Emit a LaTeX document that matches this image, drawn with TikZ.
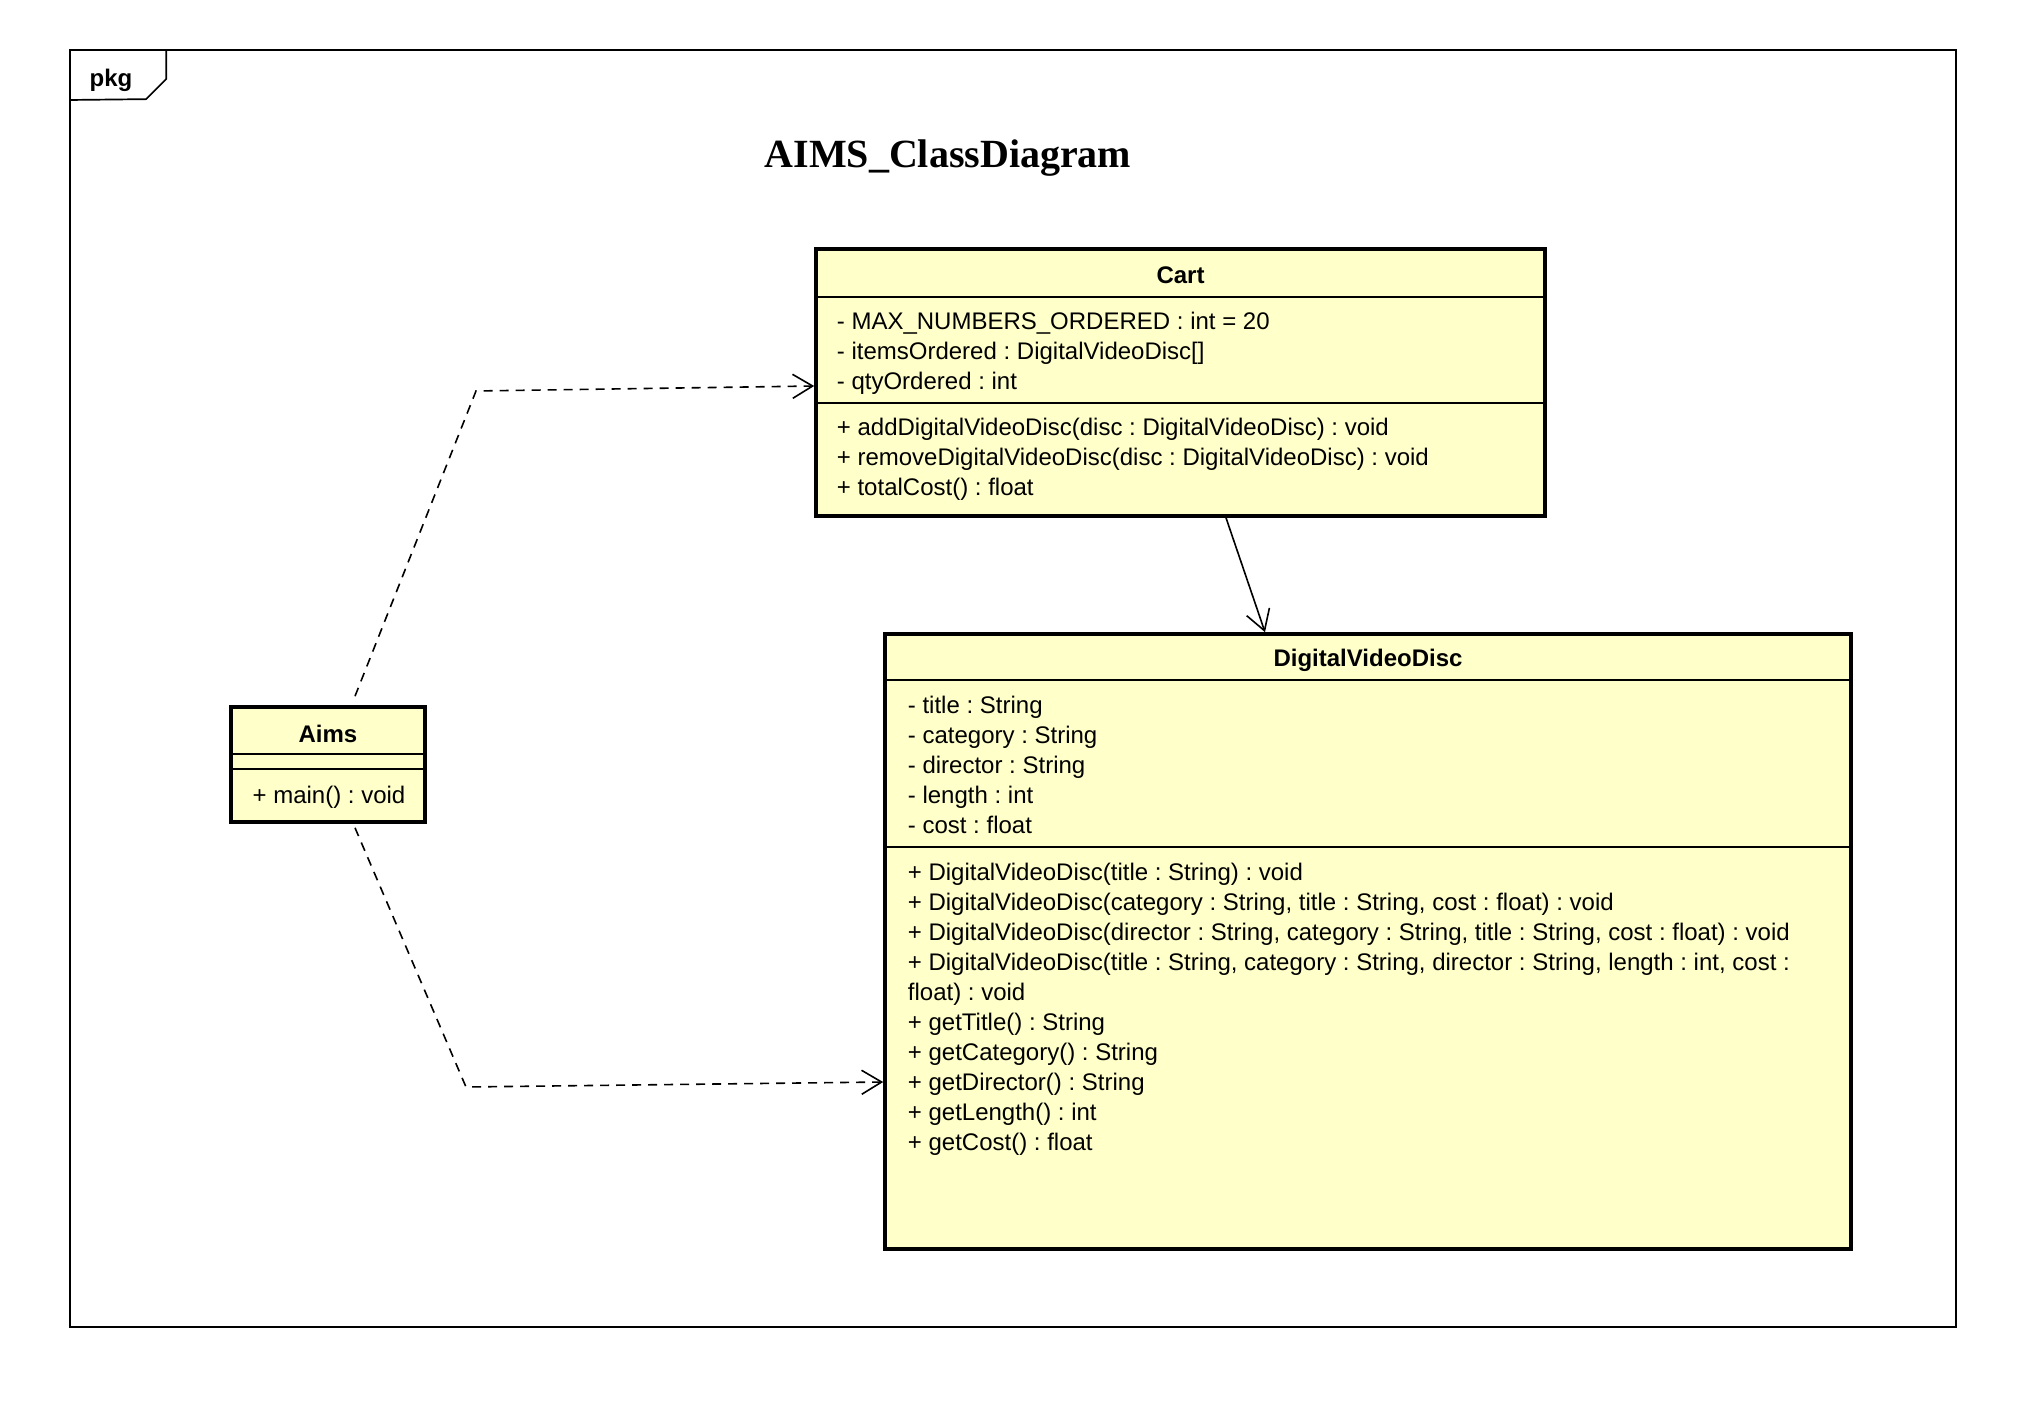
\documentclass[tikz,border=0pt]{standalone}
\usepackage{fontspec}
\setmainfont{Liberation Sans}
\newfontfamily\titlefont{Liberation Serif}
\usetikzlibrary{arrows.meta,fit,positioning}
\definecolor{ClassFill}{HTML}{FFFFCA}
\frenchspacing
\tikzset{
    classbox/.style = {draw, line width=1.8pt, fill=ClassFill, inner sep=0pt},
    frame/.style = {draw, line width=0.85pt},
    sep/.style = {line width=0.75pt},
    members/.style = {anchor=north west, inner sep=0pt, align=left,
        font=\fontsize{12}{15}\selectfont},
    header/.style = {inner sep=0pt, font=\fontsize{12}{15}\selectfont\bfseries},
    dep/.style = {draw, line width=0.8pt, dash pattern=on 4.5pt off 3.5pt,
        -{Straight Barb[length=10pt,width=12pt]}},
    assoc/.style = {draw, line width=0.8pt, -{Straight Barb[length=10pt,width=12pt]}}
}

\begin{document}
\begin{tikzpicture}[x=0.5pt,y=-0.5pt]
    \useasboundingbox (0,0) rectangle (2024,1422);

    % package frame
    \node[frame, inner sep=0pt, fit={(70,50) (1956,1327)}] (pkg) {};
    \draw[frame] (pkg.north west) ++(97,0) -- ++(0,30) -- ++(-20,20) -- (pkg.west |- 0,100);
    \node[header] (pkglabel) at (111,80) {pkg};
    \node[font=\fontsize{20}{24}\selectfont\titlefont\bfseries] (title) at (948,158) {AIMS\_ClassDiagram};

    % Cart
    \node[classbox, fit={(816,249) (1545,516)}] (cart) {};
    \node[header] (cartname) at (1180.5,275) {Cart};
    \draw[sep] (816,297) -- (1545,297);
    \draw[sep] (816,403) -- (1545,403);
    \node[members] (cartattr) at (836.5,312) {- MAX\_NUMBERS\_ORDERED : int = 20\\
        - itemsOrdered : DigitalVideoDisc[]\\
        - qtyOrdered : int};
    \node[members] (cartops) at (836.5,418) {+ addDigitalVideoDisc(disc : DigitalVideoDisc) : void\\
        + removeDigitalVideoDisc(disc : DigitalVideoDisc) : void\\
        + totalCost() : float};

    % DigitalVideoDisc
    \node[classbox, fit={(885,634) (1851,1249)}] (dvd) {};
    \node[header] (dvdname) at (1368,660) {DigitalVideoDisc};
    \draw[sep] (885,680) -- (1851,680);
    \draw[sep] (885,847) -- (1851,847);
    \node[members] (dvdattr) at (907.5,696) {- title : String\\
        - category : String\\
        - director : String\\
        - length : int\\
        - cost : float};
    \node[members] (dvdops) at (907.5,863) {+ DigitalVideoDisc(title : String) : void\\
        + DigitalVideoDisc(category : String, title : String, cost : float) : void\\
        + DigitalVideoDisc(director : String, category : String, title : String, cost : float) : void\\
        + DigitalVideoDisc(title : String, category : String, director : String, length : int, cost :\\
        float) : void\\
        + getTitle() : String\\
        + getCategory() : String\\
        + getDirector() : String\\
        + getLength() : int\\
        + getCost() : float};

    % Aims
    \node[classbox, fit={(231,707) (425,822)}] (aims) {};
    \node[header] (aimsname) at (328,734) {Aims};
    \draw[sep] (231,754) -- (425,754);
    \draw[sep] (231,769) -- (425,769);
    \node[inner sep=0pt, font=\fontsize{12}{15}\selectfont] (aimsops) at (329,797) {+ main() : void};

    % dependencies
    \coordinate (bendA) at (476,391);
    \coordinate (bendB) at (466,1087);
    \draw[dep] ([xshift=13.5pt,yshift=4.5pt]aims.north) -- (bendA) -- ([yshift=-1.75pt]cart.west);
    \draw[dep] ([xshift=13.5pt,yshift=-2pt]aims.south) -- (bendB) -- ([yshift=-70.25pt]dvd.west);
    \draw[assoc] ([xshift=22.75pt]cart.south) -- ([xshift=-51.5pt]dvd.north);
\end{tikzpicture}
\end{document}
